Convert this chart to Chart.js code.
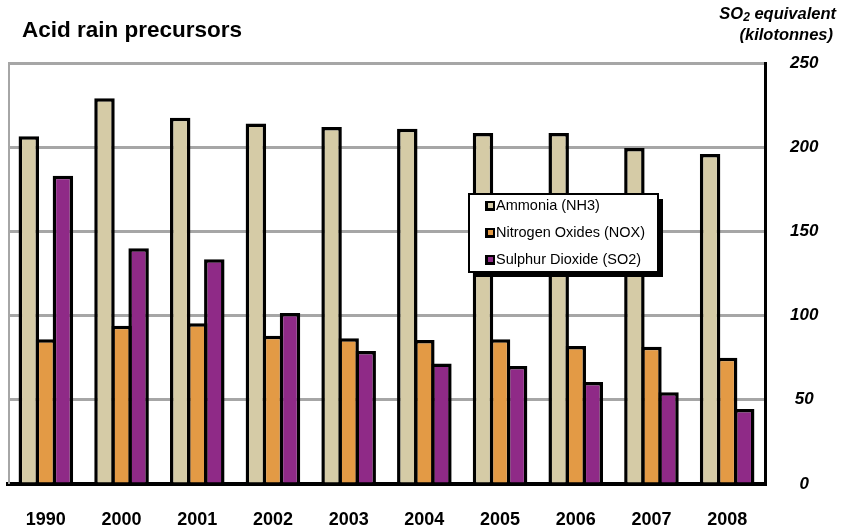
<!DOCTYPE html>
<html>
<head>
<meta charset="utf-8">
<script src="https://cdn.jsdelivr.net/npm/chart.js@4/dist/chart.umd.min.js"></script>
<style>
html,body{margin:0;padding:0;background:#fff;}
#wrap{width:846px;height:528px;position:relative;}
</style>
</head>
<body>
<div id="wrap"><canvas id="c" width="846" height="528"></canvas></div>
<script>
const categories = ['1990','2000','2001','2002','2003','2004','2005','2006','2007','2008'];
const ammonia   = [206.5, 229, 217.5, 214, 212, 211, 208.5, 208.5, 199.5, 196];
const nitrogen  = [86, 94, 95.5, 88, 86.5, 85.5, 86, 82, 81.5, 75];
const sulphur   = [183, 140, 133.5, 101.5, 79, 71.5, 70, 60.5, 54.5, 44.5];
const seriesLabels = ['Ammonia (NH3)', 'Nitrogen Oxides (NOX)', 'Sulphur Dioxide (SO2)'];
const seriesColors = ['#D5CBA6', '#E39A45', '#8F2A87'];
const yTicks = [0, 50, 100, 150, 200, 250];

const FONT = '"Liberation Sans", Arial, Helvetica, sans-serif';

const decor = {
  id: 'decor',
  beforeDatasetsDraw(chart) {
    const {ctx, chartArea: a} = chart;
    ctx.save();
    ctx.strokeStyle = '#A6A6A6';
    ctx.lineWidth = 2;
    ctx.beginPath();
    ctx.moveTo(a.left + 1, a.top);
    ctx.lineTo(a.left + 1, a.bottom);
    ctx.stroke();
    ctx.restore();
  },
  afterDraw(chart) {
    const {ctx} = chart;
    ctx.save();
    // title
    ctx.fillStyle = '#000';
    ctx.font = 'bold 22.5px ' + FONT;
    ctx.textBaseline = 'middle';
    ctx.textAlign = 'left';
    ctx.fillText('Acid rain precursors', 22, 31);
    // axis unit title
    ctx.font = 'italic bold 16.5px ' + FONT;
    ctx.textAlign = 'right';
    const line1 = ' equivalent';
    const w1 = ctx.measureText(line1).width;
    ctx.fillText(line1, 836, 14);
    ctx.font = 'italic bold 12px ' + FONT;
    const w2 = ctx.measureText('2').width;
    ctx.fillText('2', 836 - w1, 18);
    ctx.font = 'italic bold 16.5px ' + FONT;
    ctx.fillText('SO', 836 - w1 - w2, 14);
    ctx.fillText('(kilotonnes)', 833, 35);

    // legend box
    const lx = 469, ly = 194, lw = 189, lh = 78;
    ctx.fillStyle = '#000';
    ctx.fillRect(lx + 5, ly + 5, lw, lh);
    ctx.fillStyle = '#fff';
    ctx.fillRect(lx, ly, lw, lh);
    ctx.strokeStyle = '#000';
    ctx.lineWidth = 2;
    ctx.strokeRect(lx, ly, lw, lh);
    ctx.font = '14.5px ' + FONT;
    ctx.textAlign = 'left';
    ctx.textBaseline = 'middle';
    chart.data.datasets.forEach((ds, i) => {
      const y = ly + 12 + i * 27;
      ctx.fillStyle = '#000';
      ctx.fillRect(lx + 16, y - 5, 10, 10);
      ctx.fillStyle = ds.backgroundColor;
      ctx.fillRect(lx + 19, y - 3, 5, 5);
      ctx.fillStyle = '#000';
      ctx.fillText(ds.label, lx + 27, y);
    });
    ctx.restore();
  }
};

new Chart(document.getElementById('c'), {
  type: 'bar',
  data: {
    labels: categories,
    datasets: [ammonia, nitrogen, sulphur].map((d, i) => ({
      label: seriesLabels[i],
      data: d,
      backgroundColor: seriesColors[i],
      borderColor: '#000',
      borderWidth: 3.5,
      borderSkipped: 'start',
      inflateAmount: 0,
      categoryPercentage: 0.676,
      barPercentage: 1.2
    }))
  },
  options: {
    responsive: false,
    animation: false,
    devicePixelRatio: 1,
    layout: {padding: {left: 8, top: 63, right: 0, bottom: 0}},
    plugins: {legend: {display: false}, tooltip: {enabled: false}, title: {display: false}},
    scales: {
      x: {
        grid: {display: false, drawTicks: false},
        border: {display: true, color: '#000', width: 4},
        ticks: {
          color: '#000',
          font: {family: FONT, weight: 'bold', size: 18},
          padding: 25
        },
        afterFit(s) { s.height = 44; }
      },
      y: {
        position: 'right',
        min: 0, max: 250,
        afterBuildTicks(s) { s.ticks = yTicks.map(v => ({value: v})); },
        grid: {color: '#A6A6A6', lineWidth: 3, drawTicks: false},
        border: {display: true, color: '#000', width: 3},
        ticks: {
          color: '#000',
          crossAlign: 'center',
          padding: 25,
          font: {family: FONT, weight: 'bold', style: 'italic', size: 17}
        },
        afterFit(s) { s.width = 81; }
      }
    }
  },
  plugins: [decor]
});
</script>
</body>
</html>
